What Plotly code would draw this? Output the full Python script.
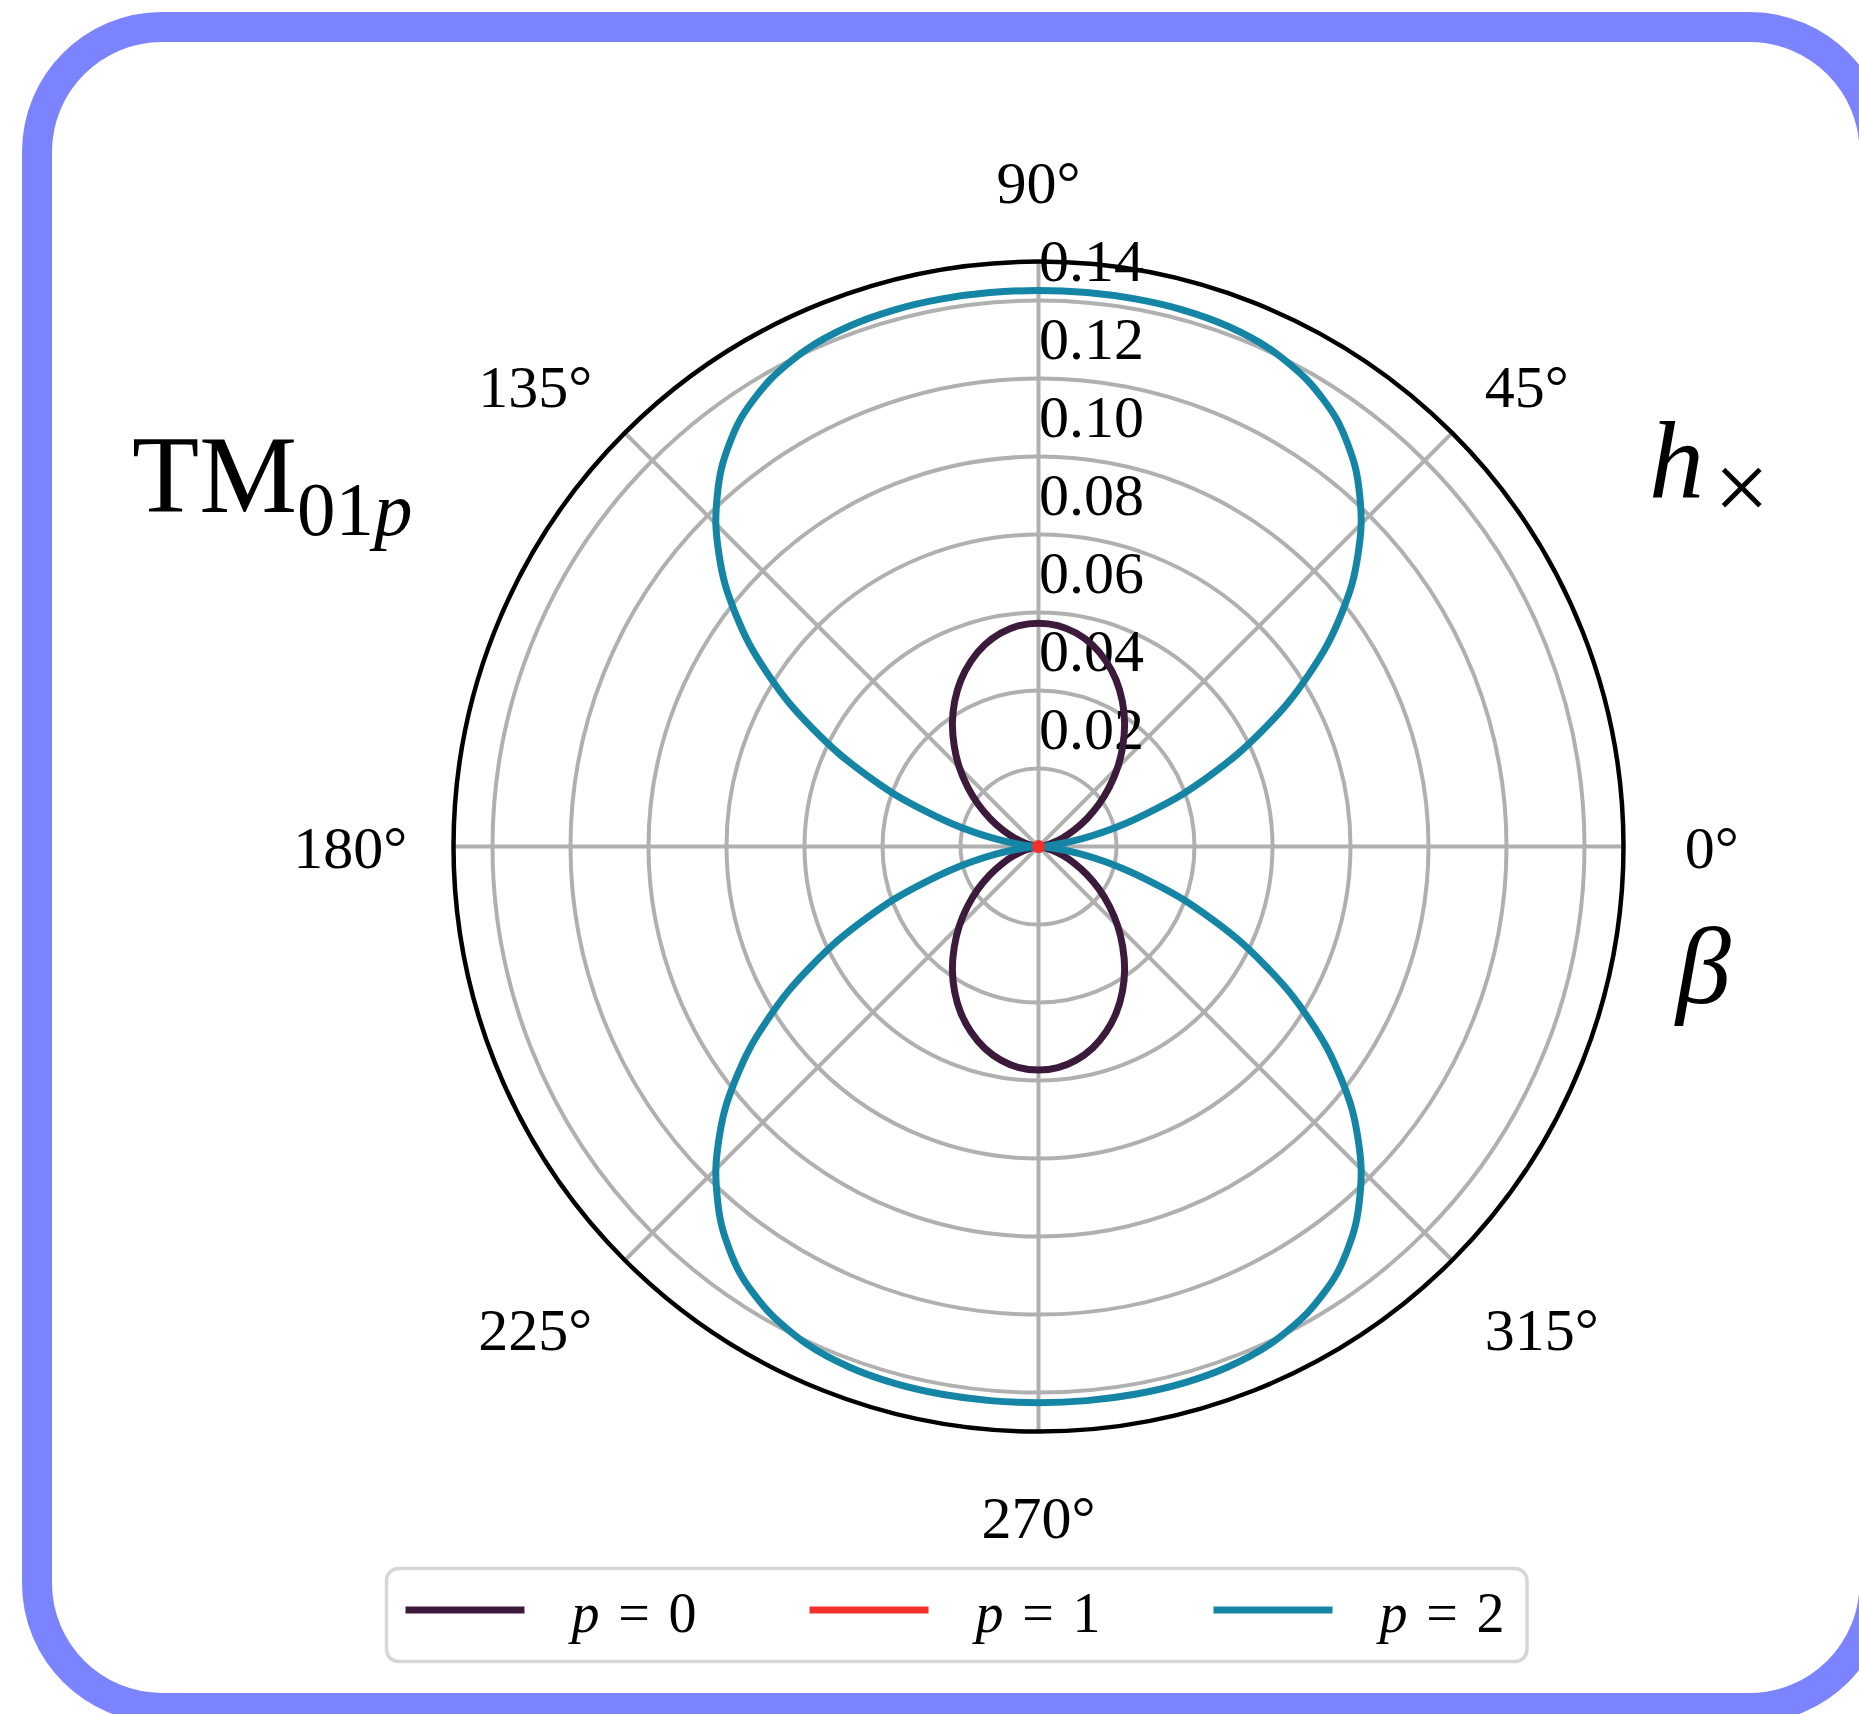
import plotly.graph_objects as go

# Radiation pattern of h_x for the TM01p modes versus the polar angle beta.
# One quadrant (0..90 deg, 5 deg steps) is tabulated; the pattern is symmetric
# about both the horizontal and vertical axes.
beta_quarter = [0, 5, 10, 15, 20, 25, 30, 35, 40, 45, 50, 55, 60, 65, 70, 75, 80, 85, 90]
h_p0 = [0.0, 0.0004, 0.0017, 0.0038, 0.0067, 0.0102, 0.0143, 0.0189, 0.0237, 0.0287,
        0.0336, 0.0385, 0.0430, 0.0471, 0.0506, 0.0535, 0.0556, 0.0569, 0.0573]
h_p1 = [0.0, 0.0, 0.0, 0.0, 0.0, 0.0, 0.0, 0.0, 0.0, 0.0,
        0.0, 0.0, 0.0, 0.0, 0.0, 0.0, 0.0, 0.0, 0.0]
h_p2 = [0.0, 0.0028, 0.0109, 0.0234, 0.0393, 0.0565, 0.0740, 0.0905, 0.1050, 0.1170,
        0.1265, 0.1335, 0.1380, 0.1407, 0.1420, 0.1425, 0.1426, 0.1426, 0.1426]

series_names = ["<i>p</i>\u2004=\u20040", "<i>p</i>\u2004=\u20041", "<i>p</i>\u2004=\u20042"]
series_colors = ["#3b1a3c", "#f5302a", "#1585a5"]

angular_ticks = [0, 45, 90, 135, 180, 225, 270, 315]
angular_labels = ["\u00a00°", "45°", "90°", "135°", "180°", "225°", "270°", "315°"]
radial_ticks = [0.02, 0.04, 0.06, 0.08, 0.10, 0.12, 0.14]
radial_labels = ["0.02", "0.04", "0.06", "0.08", "0.10", "0.12", "0.14"]
radial_max = 0.15

W, H = 1859, 1714
FONT = "Liberation Serif"
NBSP = "\u00a0"


def full_turn(quarter):
    """Mirror a 0..90 deg table into a closed 0..360 deg curve."""
    half = quarter + quarter[-2::-1]
    return half + half[1:]


def full_angles(quarter_angles):
    step = quarter_angles[1] - quarter_angles[0]
    n = 4 * (len(quarter_angles) - 1) + 1
    return [i * step for i in range(n)]


def px(x):
    return x / W


def py(y):
    return 1 - y / H


def rounded_rect(x0, y0, x1, y1, r):
    k = 0.5523 * r
    P = lambda x, y: f"{px(x):.6f},{py(y):.6f}"
    return (
        f"M {P(x0 + r, y0)} L {P(x1 - r, y0)} "
        f"C {P(x1 - r + k, y0)} {P(x1, y0 + r - k)} {P(x1, y0 + r)} "
        f"L {P(x1, y1 - r)} "
        f"C {P(x1, y1 - r + k)} {P(x1 - r + k, y1)} {P(x1 - r, y1)} "
        f"L {P(x0 + r, y1)} "
        f"C {P(x0 + r - k, y1)} {P(x0, y1 - r + k)} {P(x0, y1 - r)} "
        f"L {P(x0, y0 + r)} "
        f"C {P(x0, y0 + r - k)} {P(x0 + r - k, y0)} {P(x0 + r, y0)} Z"
    )


theta = full_angles(beta_quarter)
fig = go.Figure()

dots = []
for name, color, values in zip(series_names, series_colors, [h_p0, h_p1, h_p2]):
    r = full_turn(values)
    fig.add_trace(go.Scatterpolar(
        r=r, theta=theta, mode="lines", name=NBSP * 3 + name,
        line=dict(color=color, width=7, shape="spline", smoothing=0.8),
        legendgroup=name,
    ))
    if max(values) == 0:
        dots.append((name, color, values))

# a pattern that vanishes everywhere collapses to a dot at the origin
for name, color, values in dots:
    fig.add_trace(go.Scatterpolar(
        r=[values[0]], theta=[0], mode="markers", showlegend=False,
        legendgroup=name, marker=dict(color=color, size=13),
    ))

# radial labels sit just above their grid circle: an empty second line
# lifts the centred label block by half a line
radial_text = [t + "<br>" + NBSP for t in radial_labels]

fig.update_layout(
    width=W, height=H,
    margin=dict(l=0, r=0, t=0, b=0),
    paper_bgcolor="white",
    font=dict(family=FONT, color="black", size=56),
    polar=dict(
        domain=dict(x=[px(453.5), px(1623.5)], y=[py(1431.6), py(261.6)]),
        bgcolor="white",
        angularaxis=dict(
            rotation=0, direction="counterclockwise",
            tickmode="array", tickvals=angular_ticks, ticktext=angular_labels,
            showline=True, linecolor="black", linewidth=4.5,
            showgrid=True, gridcolor="#b0b0b0", gridwidth=4,
            ticks="outside", ticklen=32, tickcolor="rgba(0,0,0,0)",
            tickfont=dict(size=60, family=FONT),
        ),
        radialaxis=dict(
            range=[0, radial_max], tickmode="array",
            tickvals=radial_ticks, ticktext=radial_text,
            angle=90, tickangle=90, side="clockwise",
            showline=False, ticks="",
            showgrid=True, gridcolor="#b0b0b0", gridwidth=4,
            tickfont=dict(size=60, family=FONT),
            layer="below traces",
        ),
    ),
    legend=dict(
        orientation="h", x=px(400.5), xanchor="left", y=py(1610), yanchor="middle",
        bgcolor="rgba(0,0,0,0)", borderwidth=0,
        font=dict(size=56, family=FONT),
        itemwidth=119, entrywidth=270,
    ),
    showlegend=True,
    shapes=[
        dict(type="path", xref="paper", yref="paper",
             path=rounded_rect(37, 27, 1874.5, 1708, 125),
             line=dict(color="#7b83ff", width=30), layer="above"),
        dict(type="path", xref="paper", yref="paper",
             path=rounded_rect(386.5, 1568.5, 1527, 1661.5, 12),
             line=dict(color="#d6d6d6", width=3.5), layer="below"),
    ],
    annotations=[
        dict(text="TM<sub>01<i>p</i></sub>",
             x=px(130), y=py(483), xref="paper", yref="paper",
             xanchor="left", yanchor="middle", showarrow=False,
             font=dict(size=110, family=FONT)),
        # h with its x subscript
        dict(text="<i>h</i>",
             x=px(1647), y=py(461), xref="paper", yref="paper",
             xanchor="left", yanchor="middle", showarrow=False,
             font=dict(size=110, family=FONT)),
        dict(text="×",
             x=px(1741), y=py(487), xref="paper", yref="paper",
             xanchor="center", yanchor="middle", showarrow=False,
             font=dict(size=98, family=FONT)),
        dict(text="<i>β</i>",
             x=px(1672), y=py(966), xref="paper", yref="paper",
             xanchor="left", yanchor="middle", showarrow=False,
             font=dict(size=110, family=FONT)),
    ],
)

fig.write_html("out.html")
